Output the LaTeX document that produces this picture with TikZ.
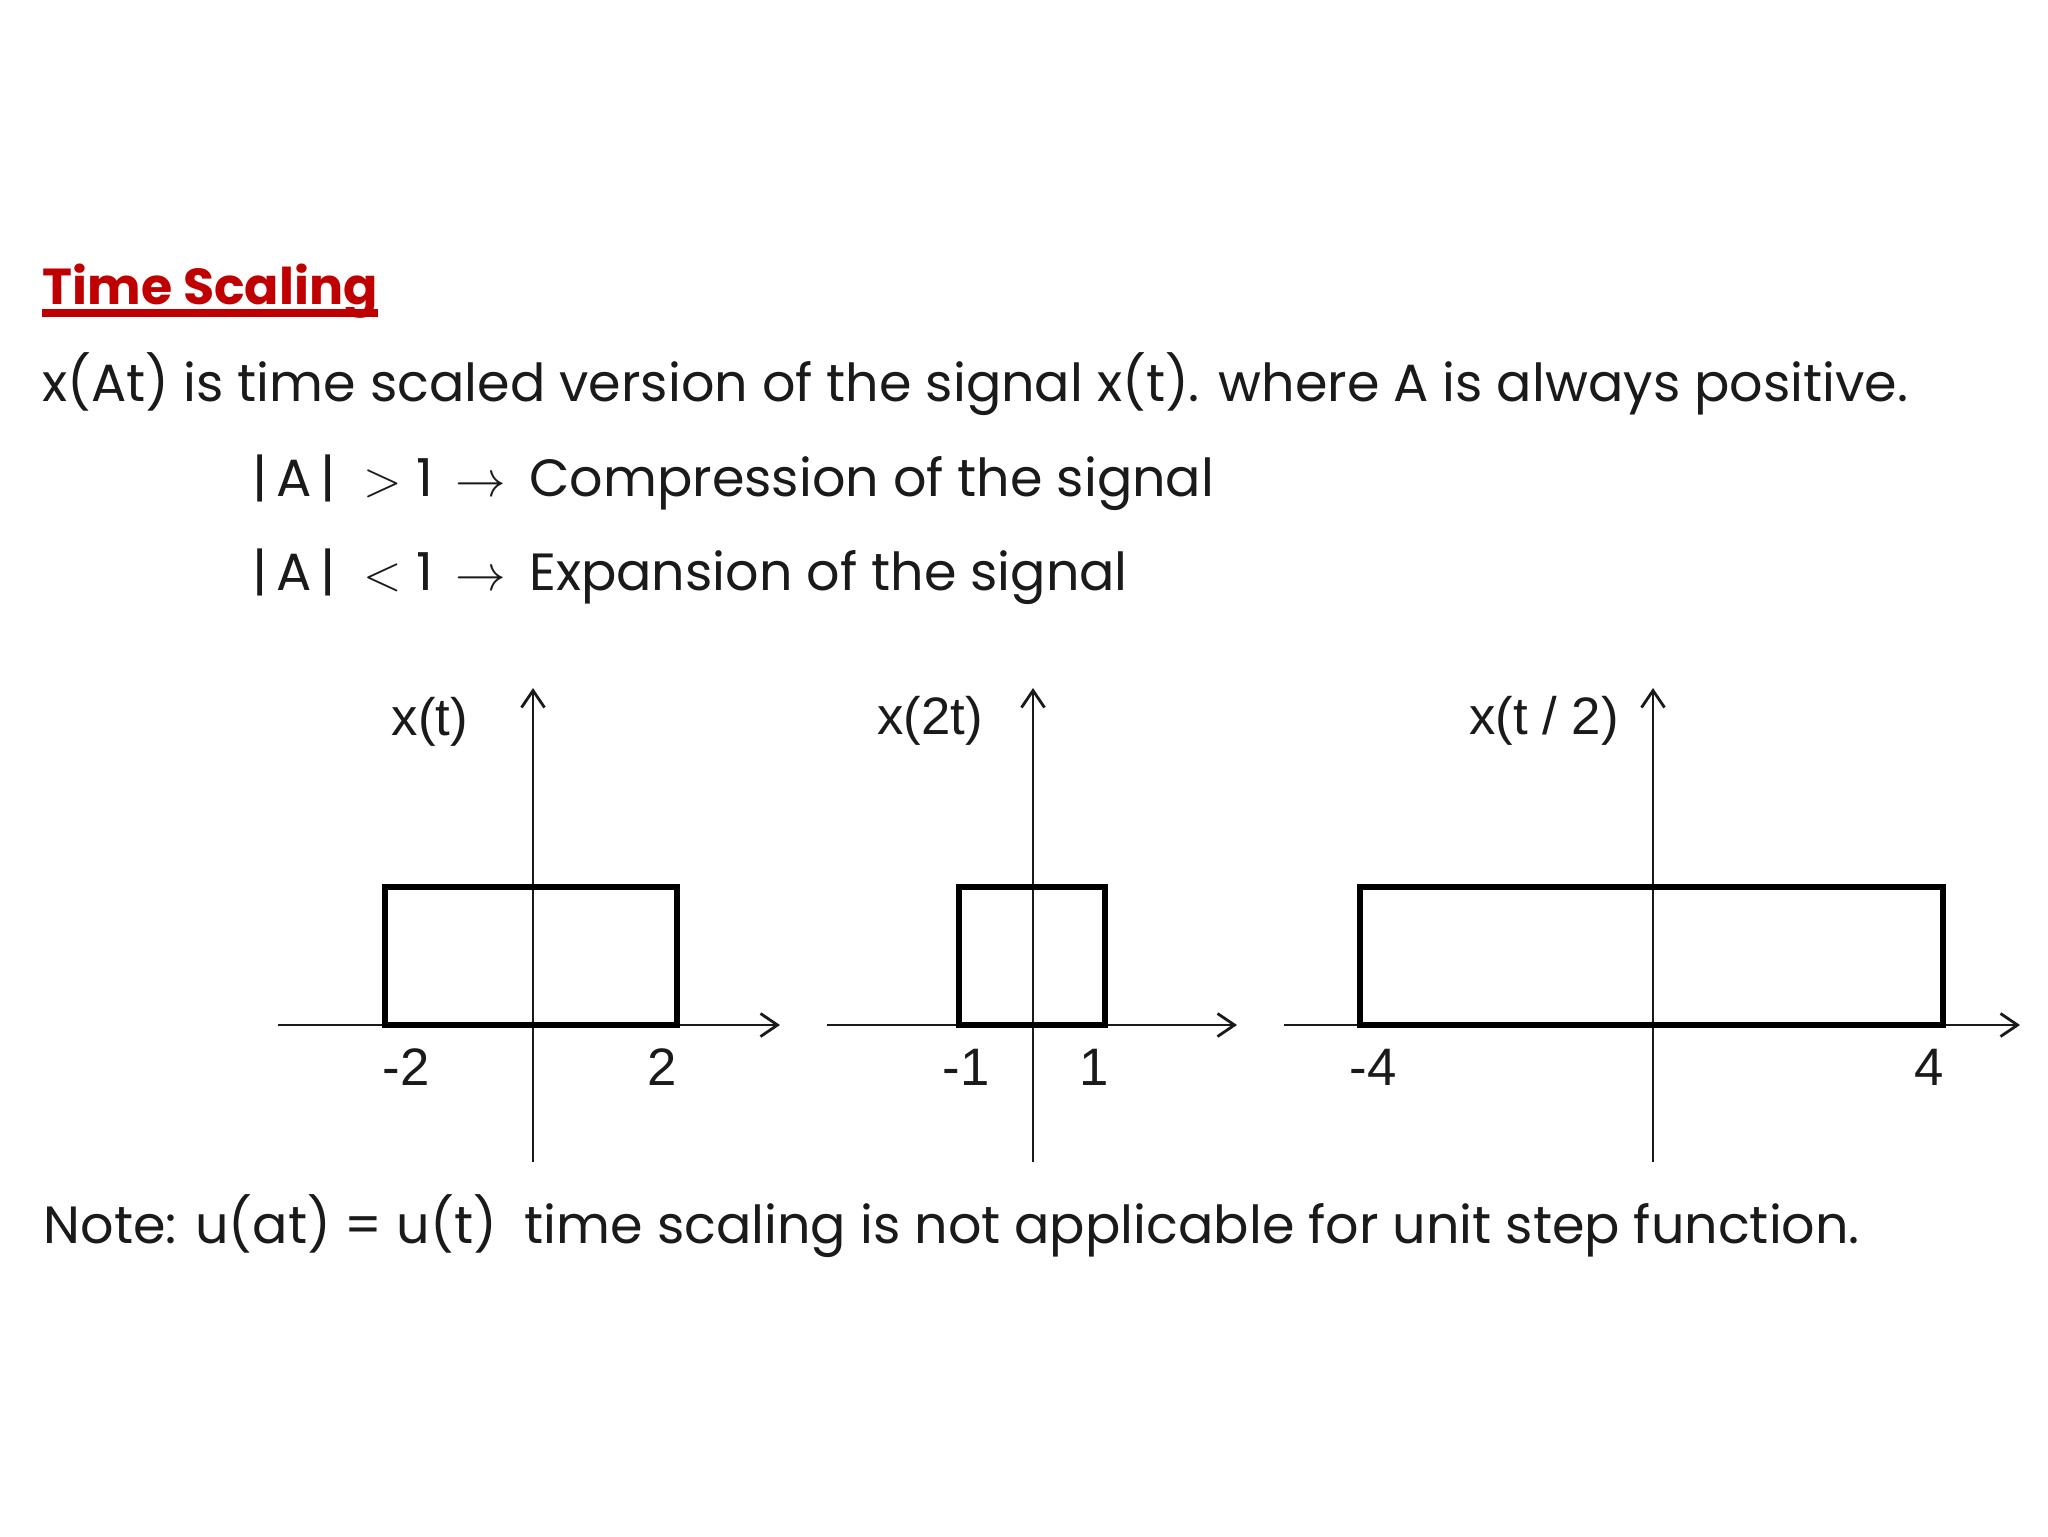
\documentclass[tikz,border=0pt]{standalone}
\usepackage{fontspec}
\setmainfont{Poppins}
\newfontfamily\plotfont{Liberation Sans}
\usetikzlibrary{arrows.meta,positioning}
\definecolor{TsRed}{HTML}{C00000}
\definecolor{TsInk}{HTML}{1A1A1A}
\tikzset{
  tsbody/.style={
    anchor=base west,
    inner sep=0pt,
    text=TsInk,
    font=\fontsize{14.9}{18}\selectfont
  },
  tstitle/.style={
    tsbody,
    text=TsRed,
    font=\fontsize{14.4}{17}\selectfont\bfseries
  },
  tsaxis/.style={-{Straight Barb[length=1.7mm,width=2.3mm]},line width=.8pt,draw=TsInk},
  tspulse/.style={line width=1.6pt,draw=black},
  tstick/.style={inner sep=0pt,text=TsInk,font=\plotfont\fontsize{15}{17}\selectfont}
}

\begin{document}
\begin{tikzpicture}[x=0.1mm,y=-0.1mm]
    \useasboundingbox[fill=white] (0,0) rectangle (2048,1536);
    % heading and text
    \node[tstitle] (title) at (42,304) {Time Scaling};
    \draw[TsRed,line width=2.2pt] ([yshift=-2.6pt]title.base west) -- ([yshift=-2.6pt]title.base east);
    \node[tsbody] (intro) at (42,401) {x(At) is time scaled version of the signal x(t). where A is always positive.};
    \node[tsbody] (compress) at (252,496) {|\,A\,|\ \ $>$\ 1\ \,$\rightarrow$\ \,Compression of the signal};
    \node[tsbody] (expand) at (252,590) {|\,A\,|\ \ $<$\ 1\ \,$\rightarrow$\ \,Expansion of the signal};
    % x(t)
    \coordinate (h1w) at (278,1025);
    \coordinate (h1e) at (780,1025);
    \coordinate (v1b) at (533,1162);
    \coordinate (v1t) at (533,688);
    \draw[tsaxis] (h1w) -- (h1e);
    \draw[tsaxis] (v1b) -- (v1t);
    \draw[tspulse] (385,887) rectangle (677,1025);
    \node[tstick] (sig1) at (430,722) {x(t)};
    \node[tstick] (lo1) at (406,1067) {-2};
    \node[tstick] (hi1) at (662,1067) {2};
    % x(2t)
    \coordinate (h2w) at (827,1025);
    \coordinate (h2e) at (1237,1025);
    \coordinate (v2b) at (1033,1162);
    \coordinate (v2t) at (1033,688);
    \draw[tsaxis] (h2w) -- (h2e);
    \draw[tsaxis] (v2b) -- (v2t);
    \draw[tspulse] (959,887) rectangle (1105,1025);
    \node[tstick] (sig2) at (930,721) {x(2t)};
    \node[tstick] (lo2) at (966,1067) {-1};
    \node[tstick] (hi2) at (1094,1067) {1};
    % x(t/2)
    \coordinate (h3w) at (1284,1025);
    \coordinate (h3e) at (2020,1025);
    \coordinate (v3b) at (1653,1162);
    \coordinate (v3t) at (1653,688);
    \draw[tsaxis] (h3w) -- (h3e);
    \draw[tsaxis] (v3b) -- (v3t);
    \draw[tspulse] (1360,887) rectangle (1943,1025);
    \node[tstick] (sig3) at (1544,721) {x(t / 2)};
    \node[tstick] (lo3) at (1373,1067) {-4};
    \node[tstick] (hi3) at (1929,1067) {4};
    % note
    \node[tsbody] (note) at (43,1243) {Note: u(at) = u(t)\ \ time scaling is not applicable for unit step function.};
  \end{tikzpicture}
\end{document}
